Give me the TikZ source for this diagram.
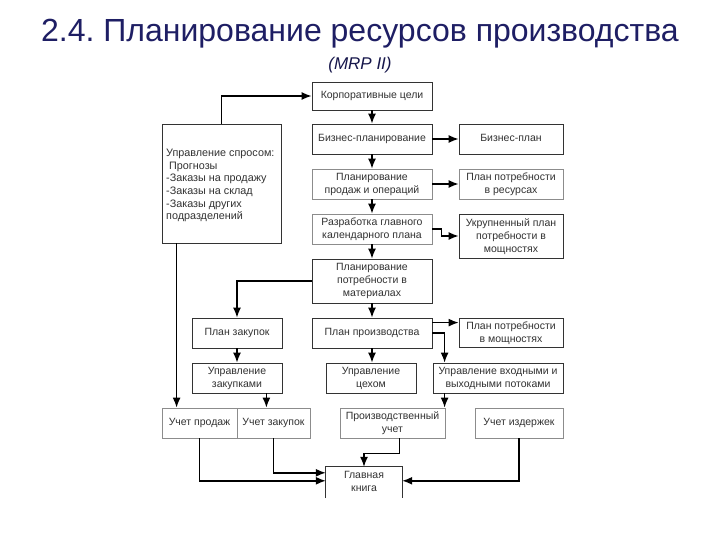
\documentclass[tikz,border=0pt]{standalone}
\usepackage{fontspec}
\setmainfont{Liberation Sans}
\usetikzlibrary{arrows.meta,calc}
\definecolor{titlecol}{RGB}{30,30,100}
\definecolor{boxtext}{RGB}{50,50,50}
\frenchspacing
\begin{document}
\begin{tikzpicture}[x=1pt,y=-1pt,
  box/.style={draw=black!80,line width=0.8pt,fill=white,text=boxtext,align=center,
    inner sep=0pt,text depth=1.5pt,font=\fontsize{10.5}{13}\selectfont},
  lbox/.style={box,draw=black!45},
  arr/.style={draw=black,line width=1.4pt,-{Latex[length=10pt,width=8pt]}},
]
\useasboundingbox[fill=white] (0,0) rectangle (720,540);
% titles
\node[text=titlecol,font=\fontsize{32}{35}\selectfont,anchor=base] (title) at (360,42) {2.4. Планирование ресурсов производства};
\node[text=titlecol!75!black,font=\fontsize{17}{20}\selectfont\itshape,anchor=base] (sub) at (360,70) {(MRP II)};
% boxes
\node[box,minimum width=120pt,minimum height=28pt] (korp) at (372,96) {Корпоративные цели};
\node[box,minimum width=120pt,minimum height=30pt] (bizpl) at (372,139) {Бизнес-планирование};
\node[box,minimum width=104pt,minimum height=30pt] (bizplan) at (511,139) {Бизнес-план};
\node[lbox,minimum width=120pt,minimum height=30pt] (prodop) at (372,184) {Планирование\\продаж и операций};
\node[lbox,minimum width=104pt,minimum height=30pt] (resurs) at (511,184) {План потребности\\в ресурсах};
\node[lbox,minimum width=120pt,minimum height=30pt] (mps) at (372,229) {Разработка главного\\календарного плана};
\node[box,minimum width=104pt,minimum height=44pt] (rccp) at (511,236) {Укрупненный план\\потребности в\\мощностях};
\node[box,minimum width=120pt,minimum height=44pt] (mrp) at (372,281) {Планирование\\потребности в\\материалах};
\node[box,minimum width=119pt,minimum height=119pt] (demand) at (221.5,183.5) {};
\node[text=boxtext,font=\fontsize{10.8}{12.6}\selectfont,align=left,anchor=north west,inner sep=0pt] (demandtxt) at (166,149)
  {Управление спросом:\\\ Прогнозы\\-Заказы на продажу\\-Заказы на склад\\-Заказы других\\подразделений};
\node[box,minimum width=90pt,minimum height=30pt] (zakplan) at (237,333) {План закупок};
\node[box,minimum width=120pt,minimum height=30pt] (prodplan) at (372,333) {План производства};
\node[box,minimum width=104pt,minimum height=29pt] (crp) at (511,332.5) {План потребности\\в мощностях};
\node[box,minimum width=90pt,minimum height=30pt] (zakupr) at (237,378) {Управление\\закупками};
\node[box,minimum width=90pt,minimum height=30pt] (ceh) at (371,378) {Управление\\цехом};
\node[box,minimum width=130pt,minimum height=30pt] (flows) at (498,378) {Управление входными и\\выходными потоками};
\node[lbox,minimum width=75pt,minimum height=30pt] (uchprod) at (199.5,423) {Учет продаж};
\node[lbox,minimum width=73pt,minimum height=30pt] (uchzak) at (273.5,423) {Учет закупок};
\node[lbox,minimum width=105pt,minimum height=30pt] (produch) at (392.5,423) {Производственный\\учет};
\node[lbox,minimum width=88pt,minimum height=30pt] (izderzh) at (519,423) {Учет издержек};
\node[text=boxtext,font=\fontsize{10.5}{13}\selectfont,align=center,minimum width=76pt,minimum height=31pt,inner sep=0pt,text depth=1.5pt] (gl) at (364,482.5) {Главная\\книга};
\draw[black!80,line width=0.8pt] (gl.south west) -- (gl.north west) -- (gl.north east) -- (gl.south east);
% helper coordinates
\coordinate (p1) at ($(prodplan.north east)+(0,5)$);
\coordinate (f1) at ($(flows.north west)+(12,0)$);
\coordinate (f2) at ($(flows.south west)+(12,0)$);
\coordinate (d1) at ($(demand.south west)+(15,0)$);
\coordinate (z1) at ($(zakupr.south east)+(-16,0)$);
\coordinate (p2) at ($(produch.south west)+(60,0)$);
\coordinate (g1) at ($(gl.north west)+(0,6)$);
\coordinate (g2) at ($(gl.north west)+(0,14)$);
\coordinate (g3) at ($(gl.north east)+(0,14)$);
% connectors
\draw[arr] (demand.north) |- (korp.west);
\draw[arr] (korp.south) -- (bizpl.north);
\draw[arr] (bizpl.south) -- (prodop.north);
\draw[arr] (prodop.south) -- (mps.north);
\draw[arr] (mps.south) -- (mrp.north);
\draw[arr] (mrp.south) -- (prodplan.north);
\draw[arr] (bizpl.east) -- (bizplan.west);
\draw[arr] (prodop.east) -- (resurs.west);
\draw[arr] (mps.east) -- ++(9,0) |- (rccp.west);
\draw[arr] (mrp.west) -| (zakplan.north);
\draw[arr] (zakplan.south) -- (zakupr.north);
\draw[arr] (p1) -- (p1 -| crp.west);
\draw[arr] (prodplan.east) -| (f1);
\draw[arr] (prodplan.south) -- (prodplan.south |- ceh.north);
\draw[arr] (f2) -- (f2 |- produch.north);
\draw[arr] (d1) -- (d1 |- uchprod.north);
\draw[arr] (z1) -- (z1 |- uchzak.north);
\draw[arr] (uchprod.south) |- (g2);
\draw[arr] (uchzak.south) |- (g1);
\draw[arr] (p2) -- ++(0,15) -| (gl.north);
\draw[arr] (izderzh.south) |- (g3);
\end{tikzpicture}
\end{document}
